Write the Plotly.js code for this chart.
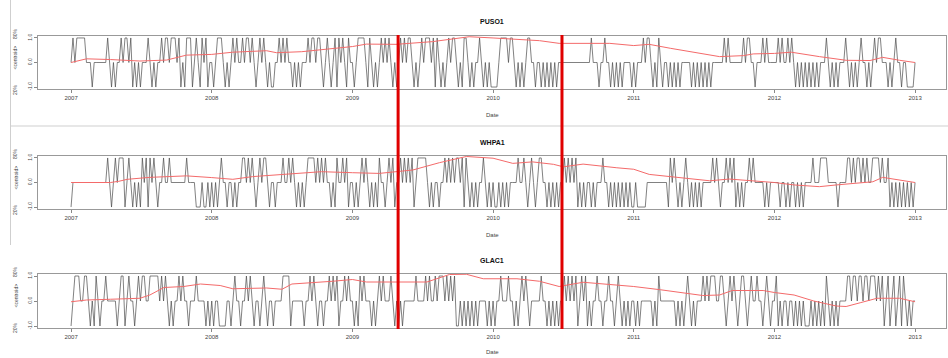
<!DOCTYPE html>
<html><head><meta charset="utf-8">
<script src="https://cdn.plot.ly/plotly-3.0.1.min.js"></script>
<style>html,body{margin:0;padding:0;background:#fff}#chart{width:948px;height:358px}</style>
</head><body><div id="chart"></div>
<script>
// ---------- data ----------
const panelNames = ['PUSO1', 'WHPA1', 'GLAC1'];
const startYear = 2007;
const samplesPerYear = 73;   // one sample every 5 days
const yearTicks = [2007, 2008, 2009, 2010, 2011, 2012, 2013];
const yearLabels = ['2007', '2008', '2009', '2010', '2011', '2012', '2013'];
const yTicks = [-1, 0, 1];
const yTickLabels = ['-1.0', '0.0', '1.0'];
const xLabel = 'Date';
const yLabelLow = '20%', yLabelMid = '<centroid>', yLabelHigh = '80%';
const cutYears = [2009.325, 2010.49];

const puso1 = [
 0,1,0,1,1,1,1,1,0,0, 0,-1,0,0,0,0,0,0,0,1, 0,-1,0,-1,0,0,1,0,1,1, 0,1,-1,0,-1,0,-1,0,0,0, 1,0,-1,0,-1,0,0,1,0,1, 1,0,1,1,1,0,1,-1,0,-1, 1,1,1,-1,0,1,0,-1,1,0, 1,-1,0,
 0,-1,0,1,1,1,0,-1,0,-1, 0,1,0,1,0,0,1,0,1,1, 0,1,0,-1,0,1,0,1,0,-1, 0,-1,-1,0,0,1,0,1,0,1, 0,0,-1,0,-1,0,-1,0,0,0, 1,0,1,1,0,1,1,0,-1,0, 1,0,-1,0,1,-1,1,0,1,0, -1,1,0,
 0,-1,0,1,1,1,1,0,-1,1, 0,-1,0,-1,0,1,0,1,0,1, 0,-1,0,-1,0,1,0,1,0,1, 1,0,-1,0,-1,0,1,0,1,1, 1,0,1,-1,1,0,-1,0,-1,0, 1,0,1,1,0,-1,0,-1,1,1, 0,-1,0,-1,0,0,1,0,-1,0, -1,0,-1,
 -1,-1,-1,0,1,1,1,1,0,1, 1,0,-1,0,-1,0,-1,0,1,1, 0,0,-1,0,0,-1,0,-1,0,-1, 0,-1,0,-1,0,0,0,0,0,0, 0,0,0,0,0,0,0,0,0,0, 0,1,0,0,0,-1,0,0,1,0, 0,-1,0,-1,0,-1,0,-1,0,0, 0,0,-1,
 0,-1,0,0,0,1,0,1,1,0, -1,0,-1,1,0,-1,0,0,-1,0, -1,0,-1,0,-1,0,0,0,0,0, -1,0,-1,0,-1,0,-1,0,-1,0, -1,0,0,0,0,0,0,1,0,1, 0,0,0,0,0,0,0,1,0,1, 1,0,0,-1,0,0,0,1,0,1, 0,0,0,
 0,0,1,0,1,0,0,1,0,1, 0,-1,0,-1,0,-1,0,-1,0,-1, 0,-1,0,-1,0,0,0,1,0,-1, 0,-1,0,-1,0,0,0,1,0,-1, 0,-1,0,-1,0,1,0,0,-1,0, -1,0,1,0,1,1,0,0,0,-1, 0,-1,0,1,0,0,-1,0,0,-1, -1,-1,-1,
 0
];
const whpa1 = [
 -1,0,0,0,0,0,0,0,0,0, 0,0,0,0,0,0,0,0,0,1, 0,-1,0,1,0,1,1,1,-1,0, 1,0,-1,0,-1,0,-1,1,0,1, -1,1,0,1,0,-1,0,0,1,0, 0,1,0,0,0,0,0,0,0,0, 1,0,0,0,0,-1,-1,-1,0,-1, -1,0,-1,
 0,-1,0,-1,0,1,0,0,-1,0, 0,-1,0,-1,0,0,1,1,0,1, 0,1,0,-1,0,1,0,1,1,0, -1,0,0,-1,0,0,0,1,0,0, 1,0,1,0,-1,0,-1,0,-1,0, 1,1,1,1,0,1,0,1,0,1, 0,0,-1,0,-1,1,0,0,1,0, 1,-1,0,
 0,-1,0,-1,0,1,0,1,0,-1, 0,-1,0,-1,1,0,0,-1,0,1, 0,1,-1,0,0,1,0,1,0,1, 0,1,-1,0,1,1,1,1,1,0, -1,0,-1,0,0,-1,0,0,1,0, 1,0,1,0,1,1,0,1,-1,1, 0,-1,0,-1,0,-1,0,0,1,0, -1,0,-1,
 0,-1,-1,0,-1,0,-1,0,-1,0, 0,0,0,1,0,0,1,0,-1,0, 1,0,-1,0,1,1,0,0,-1,0, -1,0,-1,0,-1,0,0,1,0,1, 0,1,0,1,-1,0,-1,0,-1,0, 0,-1,0,-1,0,0,0,1,0,0, -1,0,-1,0,-1,0,-1,0,-1,0, -1,0,-1,
 -1,0,-1,-1,-1,-1,-1,0,0,0, 0,0,0,0,0,0,0,0,-1,1, 0,1,0,-1,0,-1,0,1,0,-1, 0,-1,0,-1,0,-1,0,0,0,0, 0,1,0,1,0,-1,0,0,1,0, 1,0,1,-1,0,-1,0,-1,0,0, 1,0,1,0,0,0,0,0,-1,0, -1,0,0,
 0,0,0,-1,0,0,-1,0,-1,0, 0,-1,0,-1,0,-1,0,0,0,0, 1,0,0,0,1,1,1,1,0,0, 0,0,0,-1,0,0,0,0,1,1, 0,1,0,1,1,0,1,0,1,0, 0,1,1,1,1,0,1,0,0,1, -1,0,-1,0,-1,0,-1,0,-1,0, -1,0,-1,
 0
];
const glac1 = [
 -1,0,1,1,1,0,0,1,1,0, -1,0,-1,1,0,-1,0,0,1,0, 0,0,0,0,-1,0,1,1,-1,0, 1,0,0,-1,0,1,0,1,1,0, 0,1,1,1,1,1,0,1,0,1, 0,-1,0,-1,0,0,1,0,1,0, 0,-1,0,0,0,1,0,0,0,0, -1,0,-1,
 0,-1,0,0,-1,-1,-1,-1,0,0, -1,0,1,0,0,-1,0,0,1,0, 1,0,-1,0,0,-1,0,1,0,-1, 0,0,-1,0,0,0,0,1,1,1, 1,-1,0,0,0,0,0,0,-1,0, 0,1,0,1,0,-1,0,0,-1,0, 0,1,0,1,0,1,-1,0,0,1, 0,1,0,
 0,-1,0,-1,1,0,1,0,0,0, -1,0,-1,0,1,0,1,0,0,0, 1,0,-1,0,-1,0,-1,0,0,0, 0,0,0,1,0,0,0,0,1,0, 1,0,0,1,0,1,1,1,0,1, 0,1,0,1,-1,-1,0,-1,0,-1, 0,-1,0,-1,0,-1,0,0,0,0, -1,0,-1,
 0,-1,0,0,1,0,0,0,1,0, 0,-1,0,-1,0,1,0,1,0,-1, 0,0,0,0,0,1,0,0,-1,0, -1,0,-1,0,-1,0,0,1,0,1, 0,1,0,1,-1,0,1,0,1,-1, 0,-1,0,0,1,0,0,-1,0,0, 1,0,0,-1,0,1,0,-1,0,-1, 0,-1,0,
 0,-1,0,-1,0,0,0,0,0,0, -1,0,-1,1,0,0,0,0,0,0, 0,0,-1,0,-1,0,-1,0,1,0, -1,0,-1,0,0,0,1,0,1,0, 1,1,1,0,0,1,1,0,-1,0, 1,0,1,0,-1,0,1,1,0,-1, 0,1,0,0,1,0,0,-1,0,1, 0,-1,0,
 0,1,-1,0,-1,0,0,-1,0,0, -1,0,-1,0,-1,0,-1,-1,-1,0, -1,0,-1,0,-1,0,-1,1,0,-1, 0,-1,0,-1,0,0,0,0,1,1, 0,1,1,0,1,1,0,1,1,0, 1,1,1,0,1,0,1,-1,0,1, -1,0,1,-1,0,1,-1,1,0,-1, 0,-1,0,
 0
];

const puso1RedYears = [2007.0,2007.11,2007.28,2007.49,2007.68,2007.82,2008.0,2008.15,2008.39,2008.46,2008.64,2008.77,2009.0,2009.1,2009.31,2009.57,2009.83,2010.0,2010.17,2010.33,2010.47,2010.64,2010.83,2011.0,2011.11,2011.26,2011.49,2011.61,2011.78,2011.85,2012.0,2012.12,2012.32,2012.51,2012.68,2012.77,2012.89,2013.0];
const puso1Red = [0.0,0.15,0.12,0.06,0.1,0.3,0.33,0.42,0.48,0.4,0.44,0.51,0.65,0.75,0.74,0.85,1.05,1.0,0.95,0.89,0.78,0.77,0.78,0.69,0.74,0.58,0.37,0.24,0.28,0.35,0.37,0.42,0.24,0.09,0.08,0.21,0.09,0.0];
const whpa1RedYears = [2007.0,2007.28,2007.34,2007.4,2007.56,2007.82,2008.0,2008.15,2008.29,2008.63,2008.78,2009.0,2009.19,2009.31,2009.43,2009.62,2009.81,2010.0,2010.14,2010.28,2010.43,2010.5,2010.64,2010.88,2011.0,2011.11,2011.26,2011.54,2011.68,2011.85,2012.0,2012.14,2012.32,2012.44,2012.56,2012.7,2012.77,2012.89,2013.0];
const whpa1Red = [0,0,0.05,0.13,0.21,0.27,0.2,0.13,0.24,0.37,0.44,0.4,0.37,0.44,0.51,0.81,1.06,0.99,0.78,0.84,0.74,0.64,0.75,0.6,0.54,0.33,0.24,0.07,0.14,0.06,0.0,-0.1,-0.17,-0.1,-0.03,0.03,0.21,0.1,0.0];
const glac1RedYears = [2007.0,2007.11,2007.28,2007.49,2007.56,2007.66,2007.8,2007.92,2008.06,2008.15,2008.39,2008.5,2008.57,2008.7,2008.86,2009.0,2009.1,2009.31,2009.53,2009.69,2009.81,2009.93,2010.17,2010.33,2010.47,2010.64,2010.88,2011.0,2011.19,2011.38,2011.49,2011.61,2011.7,2011.92,2012.0,2012.14,2012.28,2012.44,2012.51,2012.61,2012.73,2012.89,2013.0];
const glac1Red = [-0.03,0.04,0.07,0.11,0.24,0.54,0.58,0.68,0.62,0.49,0.52,0.47,0.68,0.72,0.79,0.86,0.76,0.76,0.76,1.06,1.07,0.89,0.89,0.79,0.58,0.75,0.65,0.58,0.45,0.31,0.22,0.24,0.42,0.42,0.34,0.24,0.0,-0.2,-0.22,-0.07,0.11,0.11,-0.03];

// ---------- build ----------
const W = 948, H = 358;
const FONT = '"Liberation Sans", Arial, Helvetica, sans-serif';
const boxLeft = 38, boxRight = 946;
const boxTops = [36, 156, 274], boxBottoms = [89, 209, 328];
const titleY = [22, 142, 260], dateY = [115, 235, 352];

const series = [puso1, whpa1, glac1];
const redX = [puso1RedYears, whpa1RedYears, glac1RedYears];
const redY = [puso1Red, whpa1Red, glac1Red];

const traces = [];
const layout = {
  width: W, height: H, margin: {l: 0, r: 0, t: 0, b: 0},
  paper_bgcolor: '#fff', plot_bgcolor: '#fff', showlegend: false,
  font: {family: FONT, color: '#444'},
  annotations: [], shapes: []
};
const px = v => v / W, py = v => 1 - v / H;

for (let k = 0; k < 3; k++) {
  const sfx = k === 0 ? '' : String(k + 1);
  const vals = series[k];
  traces.push({
    x: vals.map((_, i) => startYear + i / samplesPerYear), y: vals,
    xaxis: 'x' + sfx, yaxis: 'y' + sfx, type: 'scatter', mode: 'lines',
    line: {color: '#4a4a4a', width: 0.7}, hoverinfo: 'skip'
  });
  traces.push({
    x: redX[k], y: redY[k], xaxis: 'x' + sfx, yaxis: 'y' + sfx,
    type: 'scatter', mode: 'lines', line: {color: '#f46a6a', width: 1}, hoverinfo: 'skip'
  });
  layout['xaxis' + sfx] = {
    domain: [px(boxLeft), px(boxRight)], anchor: 'y' + sfx,
    range: [2006.765, 2013.22], tickmode: 'array', tickvals: yearTicks, ticktext: yearLabels,
    ticks: 'outside', ticklen: 3, tickcolor: '#888', tickwidth: 1,
    showline: true, mirror: true, linecolor: '#999', linewidth: 1,
    showgrid: false, zeroline: false, automargin: false,
    tickfont: {size: 6, color: '#444', family: FONT}
  };
  layout['yaxis' + sfx] = {
    domain: [py(boxBottoms[k]), py(boxTops[k])], anchor: 'x' + sfx,
    range: [-1.08, 1.08], tickmode: 'array', tickvals: yTicks, ticktext: yTickLabels,
    tickangle: -90, ticks: 'outside', ticklen: 3, tickcolor: '#888', tickwidth: 1,
    showline: true, mirror: true, linecolor: '#999', linewidth: 1,
    showgrid: false, zeroline: false, automargin: false,
    tickfont: {size: 5, color: '#444', family: FONT}
  };
  layout.annotations.push({
    text: '<b>' + panelNames[k] + '</b>', xref: 'paper', yref: 'paper',
    x: px((boxLeft + boxRight) / 2), y: py(titleY[k]), xanchor: 'center', yanchor: 'middle',
    showarrow: false, font: {size: 7, color: '#111', family: FONT}
  });
  layout.annotations.push({
    text: xLabel, xref: 'paper', yref: 'paper',
    x: px((boxLeft + boxRight) / 2), y: py(dateY[k]), xanchor: 'center', yanchor: 'middle',
    showarrow: false, font: {size: 6, color: '#444', family: FONT}
  });
  const yl = [[yLabelHigh, boxTops[k] - 2], [yLabelMid, boxTops[k] + 21.5], [yLabelLow, boxTops[k] + 54]];
  yl.forEach(([t, yy]) => layout.annotations.push({
    text: t, xref: 'paper', yref: 'paper', x: px(15), y: py(yy),
    xanchor: 'center', yanchor: 'middle', textangle: -90, showarrow: false,
    font: {size: 5, color: '#444', family: FONT}
  }));
}

// separators between the stacked images
layout.shapes.push({type: 'line', xref: 'paper', yref: 'paper', x0: px(10.5), x1: 1, y0: py(126), y1: py(126), line: {color: '#cfcfcf', width: 1}});
layout.shapes.push({type: 'line', xref: 'paper', yref: 'paper', x0: px(10.5), x1: px(10.5), y0: py(0), y1: py(245), line: {color: '#cfcfcf', width: 1}});
// red cut lines across all panels
cutYears.forEach(c => layout.shapes.push({
  type: 'line', xref: 'x', yref: 'paper', x0: c, x1: c, y0: py(329), y1: py(35),
  line: {color: '#e00000', width: 3}
}));

Plotly.newPlot('chart', traces, layout, {displayModeBar: false, staticPlot: true});
</script></body></html>
